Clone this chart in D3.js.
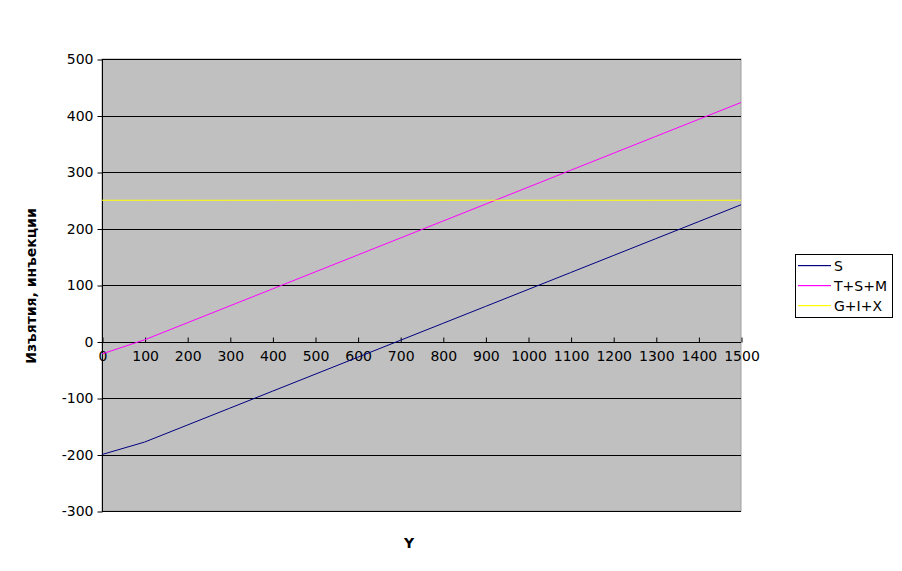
<!DOCTYPE html>
<html lang="bg">
<head>
<meta charset="UTF-8">
<title>Изъятия, инъекции</title>
<script src="https://cdn.jsdelivr.net/npm/d3@7"></script>
<style>
  body { margin: 0; background: #fff; }
  text { font-family: "DejaVu Sans", Verdana, sans-serif; }
</style>
</head>
<body>
<script>
// data
var xVals = [0, 100, 200, 300, 400, 500, 600, 700, 800, 900, 1000, 1100, 1200, 1300, 1400, 1500];
var sVals = [-200, -178, -148, -118, -88, -58, -28, 2, 32, 62, 92, 122, 152, 182, 212, 242];
var tsmVals = [-22, 3, 33, 63, 93, 123, 153, 183, 213, 243, 273, 303, 333, 363, 393, 423];
var gixVals = [250, 250, 250, 250, 250, 250, 250, 250, 250, 250, 250, 250, 250, 250, 250, 250];
var seriesNames = ["S", "T+S+M", "G+I+X"];
var seriesColors = ["#000080", "#ff00ff", "#ffff00"];
var yTicks = [-300, -200, -100, 0, 100, 200, 300, 400, 500];
var xTicks = xVals;

var w = 902, h = 571;
var mLeft = 102, mRight = 741, mTop = 59, mBottom = 511;

var svg = d3.select("body").append("svg")
  .attr("width", w).attr("height", h);

var x = d3.scaleLinear().domain([0, 1500]).range([mLeft, mRight]);
var y = d3.scaleLinear().domain([-300, 500]).range([mBottom, mTop]);

// plot area
svg.append("rect")
  .attr("x", mLeft).attr("y", mTop)
  .attr("width", mRight - mLeft).attr("height", mBottom - mTop)
  .attr("fill", "#c0c0c0")
  .attr("stroke", "#a0a0a0");

// horizontal gridlines
svg.selectAll("line.grid")
  .data(yTicks)
  .enter().append("line")
  .attr("class", "grid")
  .attr("x1", mLeft).attr("x2", mRight)
  .attr("y1", function(d) { return Math.round(y(d)) + 0.5; })
  .attr("y2", function(d) { return Math.round(y(d)) + 0.5; })
  .attr("stroke", "#000").attr("stroke-width", 1);

// y axis
var yAxis = d3.axisLeft(y).tickValues(yTicks).tickSize(5).tickPadding(4)
  .tickFormat(function(d) { return String(d); });
var gy = svg.append("g")
  .attr("transform", "translate(" + (mLeft + 0.5) + ",0.5)")
  .call(yAxis);
gy.select(".domain").remove();
gy.append("line")
  .attr("x1", 0).attr("x2", 0)
  .attr("y1", mTop).attr("y2", mBottom)
  .attr("stroke", "#000");

// x axis on the zero line, ticks pointing up
var xAxis = d3.axisBottom(x).tickValues(xTicks).tickSize(0).tickPadding(9)
  .tickFormat(function(d) { return String(d); });
var gx = svg.append("g")
  .attr("transform", "translate(0.5," + (Math.round(y(0)) + 0.5) + ")")
  .call(xAxis);
gx.select(".domain").remove();
gx.selectAll(".tick line").attr("y2", -5).attr("stroke", "#000");

svg.selectAll(".tick text")
  .attr("font-size", 14)
  .attr("font-family", "DejaVu Sans, sans-serif")
  .attr("fill", "#000");

// series lines
var series = [sVals, tsmVals, gixVals];
var line = d3.line()
  .x(function(d, i) { return x(xVals[i]); })
  .y(function(d) { return y(d); });

svg.selectAll("path.series")
  .data(series)
  .enter().append("path")
  .attr("class", "series")
  .attr("d", line)
  .attr("fill", "none")
  .attr("stroke", function(d, i) { return seriesColors[i]; })
  .attr("stroke-width", 1);

// axis titles
svg.append("text")
  .attr("x", 409).attr("y", 548)
  .attr("text-anchor", "middle")
  .attr("font-size", 14).attr("font-weight", "bold")
  .text("Y");

svg.append("text")
  .attr("transform", "translate(36,286) rotate(-90)")
  .attr("text-anchor", "middle")
  .attr("font-size", 14).attr("font-weight", "bold")
  .text("Изъятия, инъекции");

// legend
var lg = svg.append("g");
lg.append("rect")
  .attr("x", 795.5).attr("y", 254.5)
  .attr("width", 97).attr("height", 63)
  .attr("fill", "#fff").attr("stroke", "#000");

var items = lg.selectAll("g.item")
  .data(seriesNames)
  .enter().append("g")
  .attr("class", "item")
  .attr("transform", function(d, i) { return "translate(0," + (265 + i * 20) + ")"; });

items.append("rect")
  .attr("x", 798).attr("y", 0)
  .attr("width", 33).attr("height", 1.2)
  .attr("fill", function(d) { return seriesColors[seriesNames.indexOf(d)]; });

items.append("text")
  .attr("x", 834).attr("y", 6)
  .attr("font-size", 14)
  .text(function(d) { return d; });
</script>
</body>
</html>
